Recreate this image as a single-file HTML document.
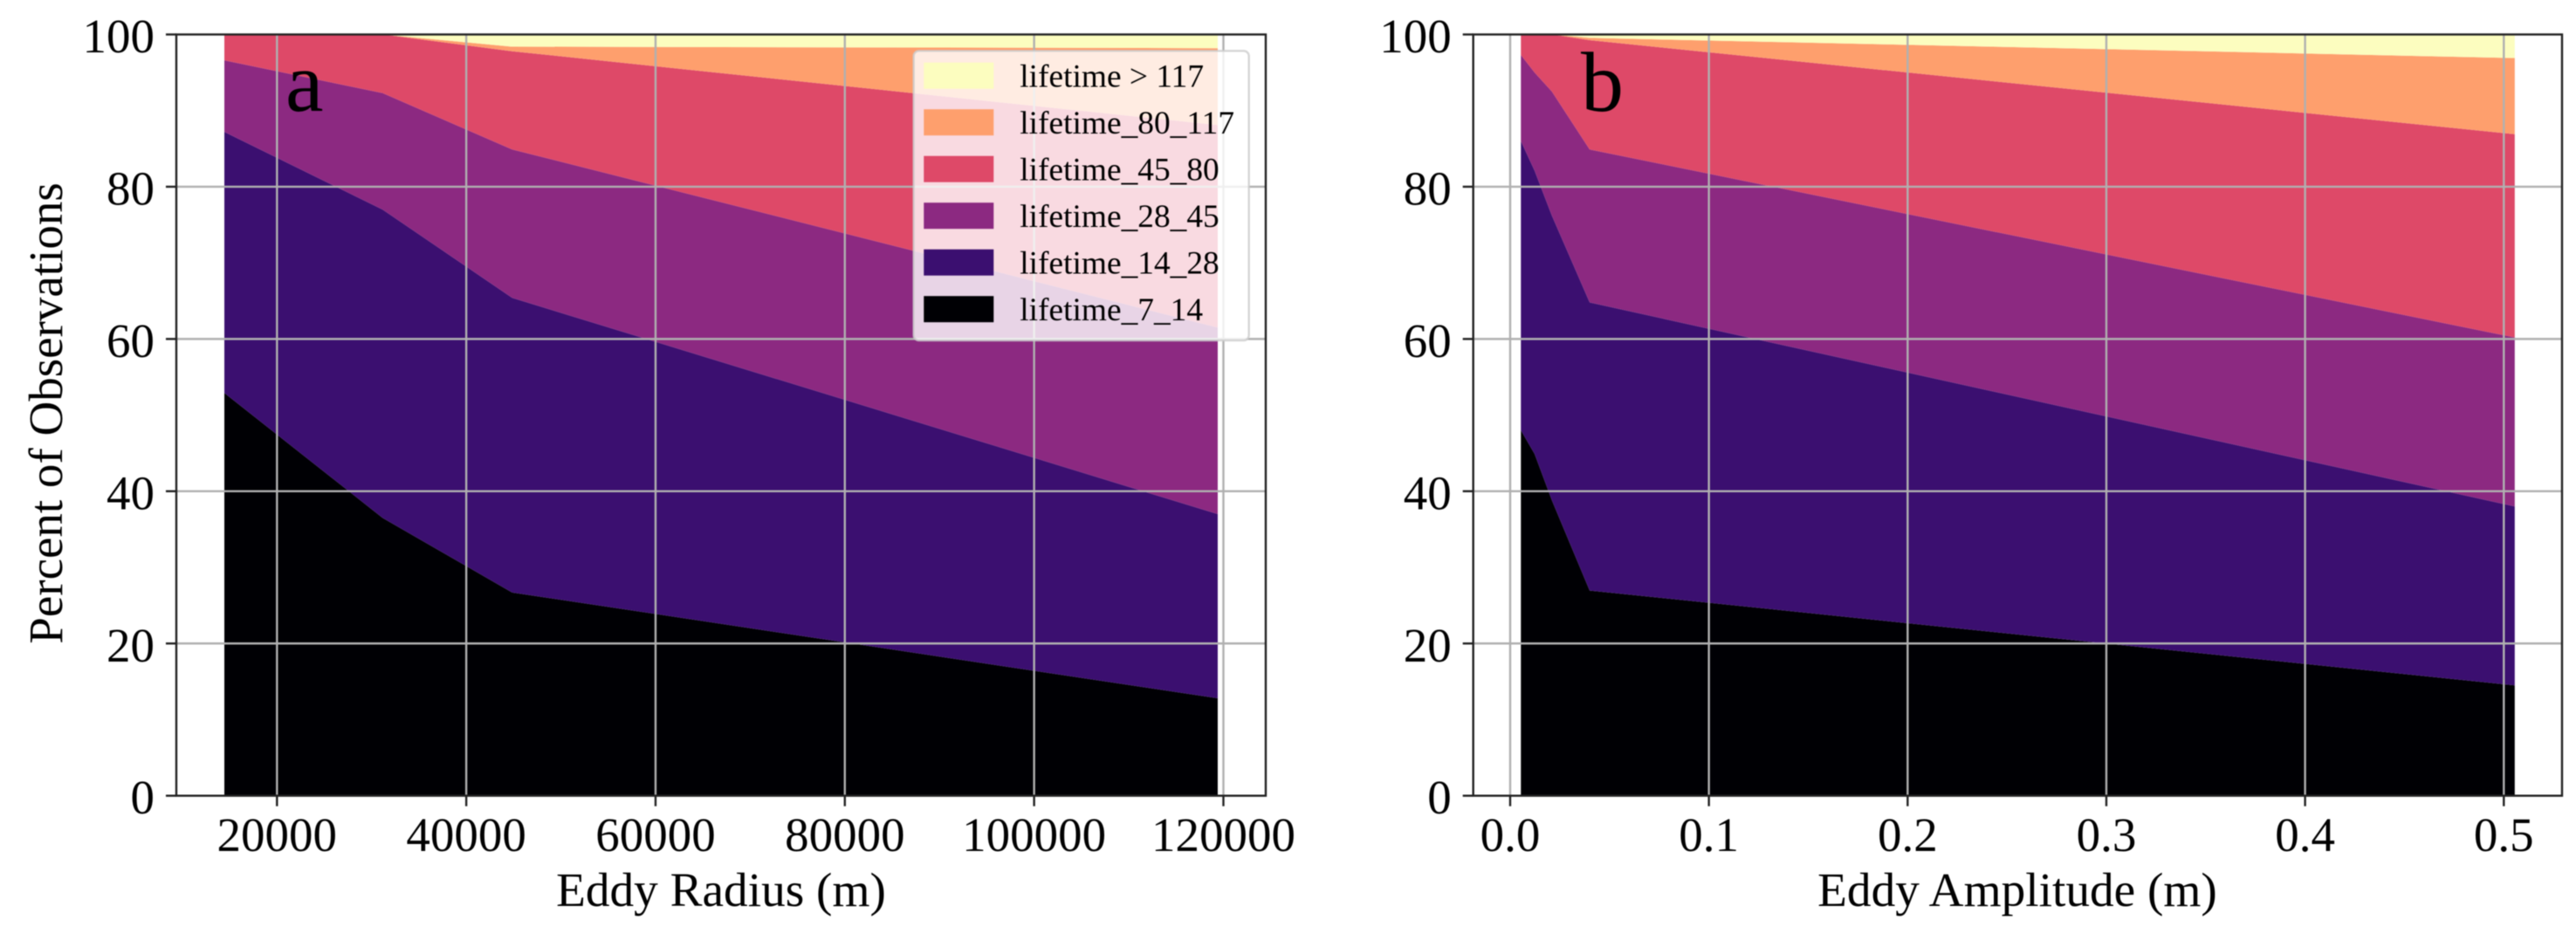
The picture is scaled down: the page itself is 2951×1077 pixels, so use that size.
<!DOCTYPE html>
<html lang="en">
<head>
<meta charset="utf-8">
<title>Eddy lifetime percentages by radius and amplitude</title>
<style>
html,body{margin:0;padding:0;background:#fff;width:2951px;height:1077px;overflow:hidden}
svg{display:block;font-family:"Liberation Serif","Times New Roman",serif;fill:#000;filter:blur(0.6px)}
</style>
</head>
<body>
<svg id="figure" xmlns="http://www.w3.org/2000/svg" width="2951" height="1077" viewBox="0 0 2951 1077">
  <rect x="0" y="0" width="2951" height="1077" fill="#ffffff"/>
  <g id="panel-a"></g>
  <g id="panel-b"></g>
  <text font-size="55" text-anchor="middle" transform="translate(71 473.5) rotate(-90)">Percent of Observations</text>
  <text font-size="55.3" text-anchor="middle" x="826" y="1038">Eddy Radius (m)</text>
  <text font-size="55.3" text-anchor="middle" x="2311" y="1038">Eddy Amplitude (m)</text>
  <text font-size="98" x="327" y="127">a</text>
  <text font-size="98" x="1811" y="127">b</text>
  <g id="legend"></g>
</svg>
<script>
// Shared series metadata, bottom of the stack first
const seriesNames = ["lifetime_7_14", "lifetime_14_28", "lifetime_28_45", "lifetime_45_80", "lifetime_80_117", "lifetime > 117"];
const seriesColors = ["#000004", "#3b0f70", "#8c2981", "#de4968", "#fe9f6d", "#fcfdbf"];

// Panel a: percent of observations vs eddy radius (m)
const radiusValues = [14440, 31160, 44850, 119400];
const radius7to14 = [52.9, 36.5, 26.7, 12.8];
const radius14to28 = [34.3, 40.5, 38.7, 24.2];
const radius28to45 = [9.4, 15.3, 19.5, 24.5];
const radius45to80 = [3.4, 7.7, 12.9, 26.6];
const radius80to117 = [0, 0, 0.6, 10.1];
const radiusOver117 = [0, 0, 1.6, 1.8];
const radiusTickValues = [20000, 40000, 60000, 80000, 100000, 120000];
const radiusTickLabels = ["20000", "40000", "60000", "80000", "100000", "120000"];

// Panel b: percent of observations vs eddy amplitude (m)
const amplitudeValues = [0.0054, 0.0123, 0.021, 0.04, 0.5055];
const amplitude7to14 = [48.0, 44.9, 38.8, 26.95, 14.5];
const amplitude14to28 = [38.0, 37.2, 37.4, 37.85, 23.5];
const amplitude28to45 = [11.3, 12.9, 16.3, 20.1, 22.2];
const amplitude45to80 = [2.7, 5.0, 7.5, 14.35, 26.7];
const amplitude80to117 = [0, 0, 0, 0.3, 10.0];
const amplitudeOver117 = [0, 0, 0, 0.45, 3.1];
const amplitudeTickValues = [0, 0.1, 0.2, 0.3, 0.4, 0.5];
const amplitudeTickLabels = ["0.0", "0.1", "0.2", "0.3", "0.4", "0.5"];

// Shared y axis
const percentTickValues = [0, 20, 40, 60, 80, 100];
const percentTickLabels = ["0", "20", "40", "60", "80", "100"];

const SVG_NS = "http://www.w3.org/2000/svg";
const PLOT_TOP = 39.5;
const PLOT_BOTTOM = 911.7;
const GRID_COLOR = "#b0b0b0";
const SPINE_COLOR = "#222222";

function yScale(v) {
  return PLOT_BOTTOM - (v / 100) * (PLOT_BOTTOM - PLOT_TOP);
}
function xScaleRadius(v) {
  return 317.3 + (v - 20000) * 0.010842;
}
function xScaleAmplitude(v) {
  return 1730 + v * 2276.6;
}

function make(tag, attrs, parent) {
  const el = document.createElementNS(SVG_NS, tag);
  for (const key in attrs) el.setAttribute(key, attrs[key]);
  parent.appendChild(el);
  return el;
}

function drawPanel(parent, prefix, left, right, xs, layers, xScale, xTicks, xLabels) {
  const baseline = xs.map(function () { return 0; });
  layers.forEach(function (values, i) {
    const upper = values.map(function (v, k) { return baseline[k] + v; });
    const top = xs.map(function (x, k) { return xScale(x).toFixed(2) + "," + yScale(upper[k]).toFixed(2); });
    const bottom = xs.map(function (x, k) { return xScale(x).toFixed(2) + "," + yScale(baseline[k]).toFixed(2); }).reverse();
    const area = make("polygon", { points: top.concat(bottom).join(" "), fill: seriesColors[i] }, parent);
    
    
    upper.forEach(function (v, k) { baseline[k] = v; });
  });

  percentTickValues.forEach(function (v) {
    if (v === 0 || v === 100) return;
    const line = make("line", { x1: left, x2: right, y1: yScale(v), y2: yScale(v), stroke: GRID_COLOR, "stroke-width": 2.4 }, parent);
    
    
  });
  xTicks.forEach(function (v, i) {
    const line = make("line", { x1: xScale(v), x2: xScale(v), y1: PLOT_TOP, y2: PLOT_BOTTOM, stroke: GRID_COLOR, "stroke-width": 2.4 }, parent);
    
    
  });

  const frame = make("rect", { x: left, y: PLOT_TOP, width: right - left, height: PLOT_BOTTOM - PLOT_TOP, fill: "none", stroke: SPINE_COLOR, "stroke-width": 2.4 }, parent);
  
  

  percentTickValues.forEach(function (v, i) {
    const tick = make("line", { x1: left - 12, x2: left, y1: yScale(v), y2: yScale(v), stroke: SPINE_COLOR, "stroke-width": 2.4 }, parent);
    
    
    const label = make("text", { x: left - 25, y: yScale(v) + 20.5, "text-anchor": "end", "font-size": 55 }, parent);
    label.textContent = percentTickLabels[i];
    
    
  });
  xTicks.forEach(function (v, i) {
    const tick = make("line", { x1: xScale(v), x2: xScale(v), y1: PLOT_BOTTOM, y2: PLOT_BOTTOM + 12, stroke: SPINE_COLOR, "stroke-width": 2.4 }, parent);
    
    
    const label = make("text", { x: xScale(v), y: 975, "text-anchor": "middle", "font-size": 55 }, parent);
    label.textContent = xLabels[i];
    
    
  });
}

drawPanel(document.getElementById("panel-a"), "radius", 202, 1450, radiusValues,
  [radius7to14, radius14to28, radius28to45, radius45to80, radius80to117, radiusOver117],
  xScaleRadius, radiusTickValues, radiusTickLabels);
drawPanel(document.getElementById("panel-b"), "amplitude", 1687.7, 2935, amplitudeValues,
  [amplitude7to14, amplitude14to28, amplitude28to45, amplitude45to80, amplitude80to117, amplitudeOver117],
  xScaleAmplitude, amplitudeTickValues, amplitudeTickLabels);

// Legend: listed from the top of the stack downward
const legendRoot = document.getElementById("legend");
const legendBox = make("rect", { x: 1046.7, y: 58.3, width: 384, height: 331.7, rx: 6, ry: 6, fill: "#ffffff", "fill-opacity": 0.8, stroke: "#cccccc", "stroke-opacity": 0.8, "stroke-width": 2.4 }, legendRoot);


seriesNames.slice().reverse().forEach(function (name, i) {
  const colorIndex = seriesNames.length - 1 - i;
  const rowY = 71.7 + i * 53.5;
  const swatch = make("rect", { x: 1058.3, y: rowY, width: 80, height: 30, fill: seriesColors[colorIndex] }, legendRoot);
  
  
  const label = make("text", { x: 1168.3, y: rowY + 27.6, "font-size": 37.4 }, legendRoot);
  label.textContent = name;
  
  
});
</script>
</body>
</html>
